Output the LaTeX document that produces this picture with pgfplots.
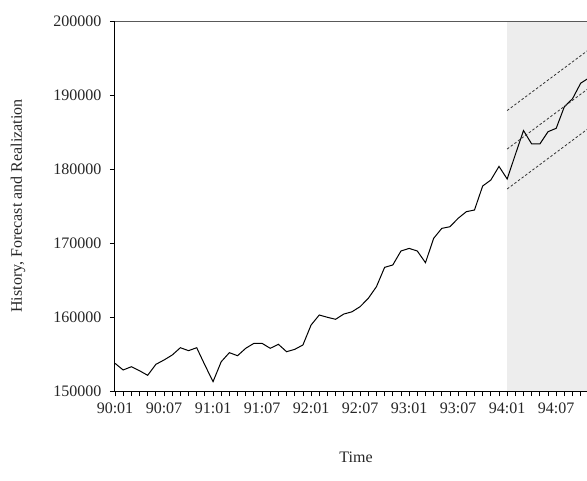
\documentclass[border=0pt]{standalone}
\usepackage{fontspec}
\setmainfont{Liberation Serif}
\usepackage{pgfplots}
\pgfplotsset{compat=1.18}
\usepackage{pgfplotstable}

% Monthly series, month index 0 = 90:01
\pgfplotstableread{
t value
0 153740
1 152840
2 153280
3 152740
4 152120
5 153600
6 154190
7 154860
8 155850
9 155450
10 155850
11 153510
12 151260
13 153960
14 155180
15 154770
16 155770
17 156440
18 156440
19 155770
20 156310
21 155310
22 155630
23 156220
24 158920
25 160270
26 159960
27 159690
28 160400
29 160700
30 161400
31 162520
32 164100
33 166710
34 167030
35 168920
36 169270
37 168920
38 167340
39 170630
40 171980
41 172200
42 173340
43 174230
44 174460
45 177700
46 178510
47 180350
48 178650
49 181950
50 185200
51 183380
52 183380
53 185040
54 185500
55 188420
56 189500
57 191600
58 192300
}\realized

% Forecast with lower and upper bands from 94:01
\pgfplotstableread{
t fc lo hi
48 182700 177300 187900
58 190930 185530 196130
}\forecast

\begin{document}
\begin{tikzpicture}
\begin{axis}[
  at={(0,0)}, anchor=south west,
  width=472pt, height=370pt, scale only axis,
  xmin=0, xmax=57.77, ymin=150000, ymax=200000,
  axis x line*=bottom, axis y line*=left,
  axis line style={black, line width=1pt},
  tick align=outside,
  major tick length=5pt, minor tick length=5pt,
  tick style={black, line width=0.8pt},
  xtick={0,6,...,54},
  minor xtick={0,...,57},
  xticklabels={90:01,90:07,91:01,91:07,92:01,92:07,93:01,93:07,94:01,94:07},
  ytick={150000,160000,...,200000},
  scaled y ticks=false,
  /pgf/number format/fixed,
  /pgf/number format/1000 sep={},
  /pgf/number format/assume math mode=true,
  tick label style={font=\fontsize{16}{18}\selectfont, text=black!85},
  yticklabel style={xshift=-5pt},
  xticklabel style={yshift=-3pt},
  xlabel={Time},
  ylabel={History, Forecast and Realization},
  every axis x label/.style={at={(axis description cs:0.5106,-0.18)}, anchor=center,
    font=\fontsize{16}{18}\selectfont, text=black!85},
  every axis y label/.style={at={(axis description cs:-0.2055,0.5)}, rotate=90, anchor=center,
    font=\fontsize{16}{18}\selectfont, text=black!85},
]
  % forecast period shading
  \fill[black!7] (axis cs:48,150000) rectangle (axis cs:57.77,200000);
  \draw[black!65, line width=1.2pt] (rel axis cs:0,1) -- (rel axis cs:1,1);
  \addplot[black, line width=1pt] table[x=t, y=value] {\realized};
  \addplot[black!80, line width=0.8pt, dash pattern=on 2.5pt off 2pt] table[x=t, y=hi] {\forecast};
  \addplot[black!80, line width=0.8pt, dash pattern=on 2.5pt off 2pt] table[x=t, y=fc] {\forecast};
  \addplot[black!80, line width=0.8pt, dash pattern=on 2.5pt off 2pt] table[x=t, y=lo] {\forecast};
\end{axis}
\pgfresetboundingbox
\path (-115pt,-89pt) rectangle (472pt,391pt);
\end{tikzpicture}
\end{document}
